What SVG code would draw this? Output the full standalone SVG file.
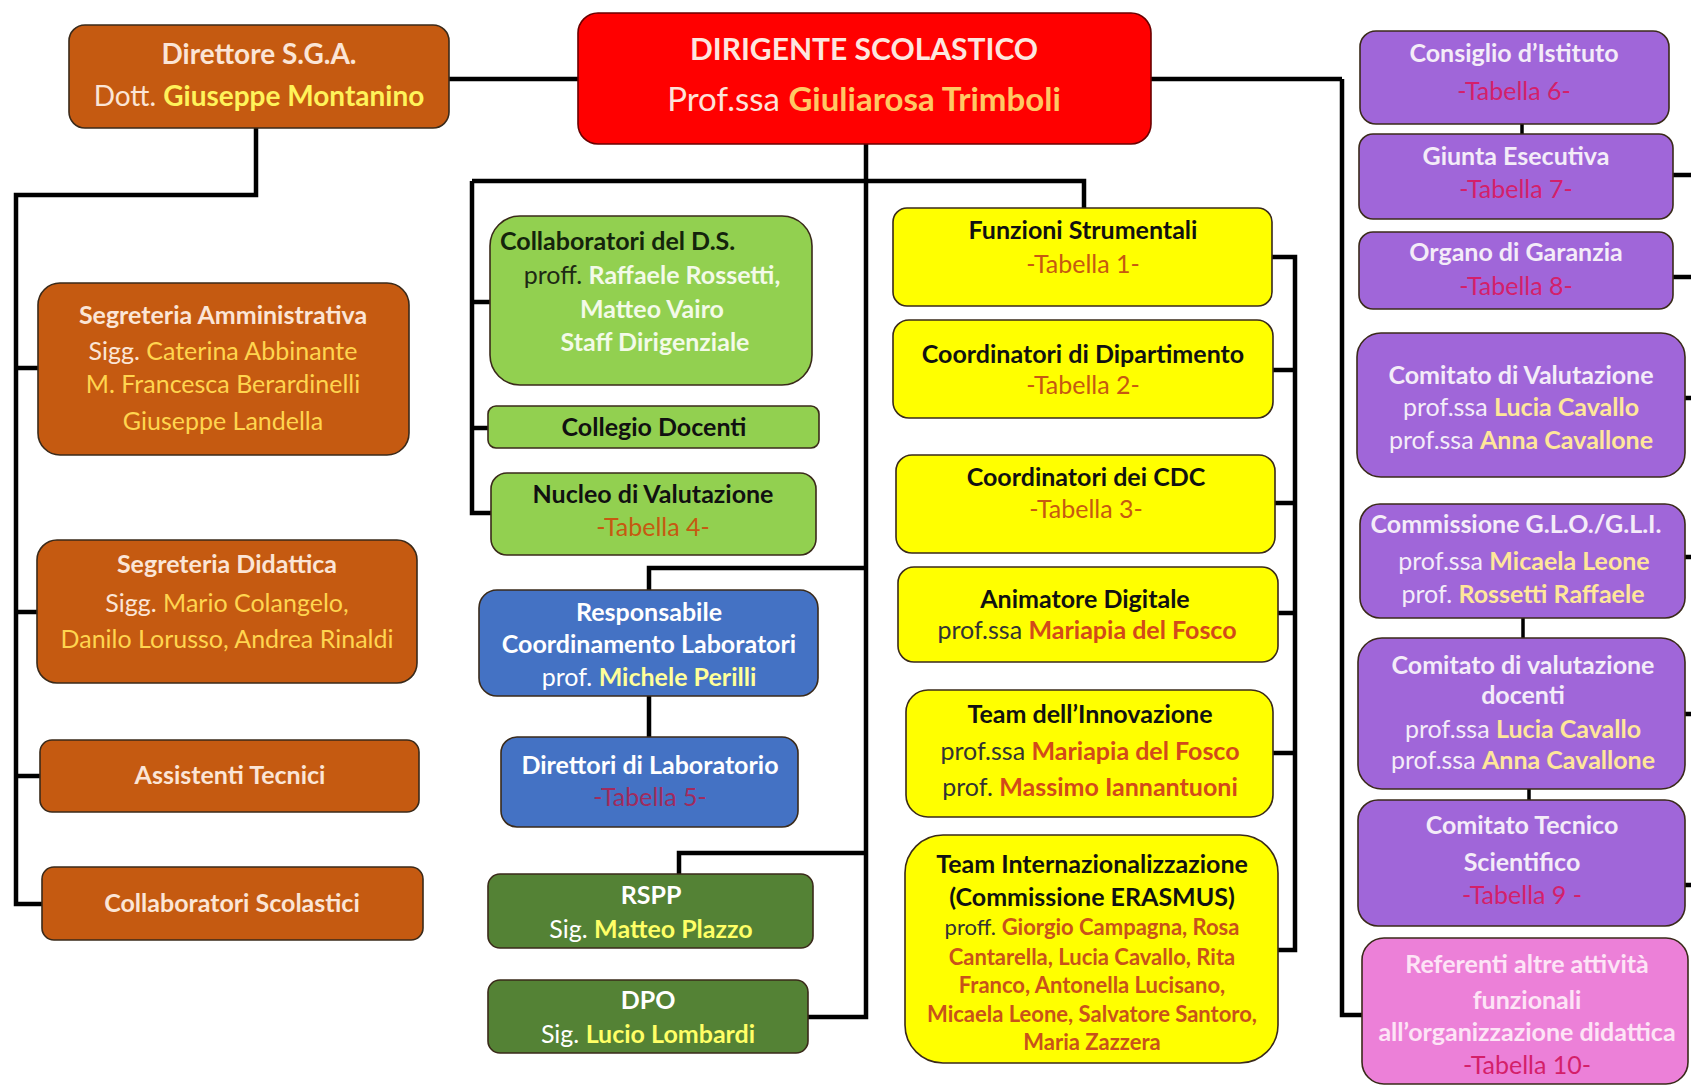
<svg xmlns="http://www.w3.org/2000/svg" width="1691" height="1086" viewBox="0 0 1691 1086">
<style>
text{font-family:Lato,'Noto Sans',sans-serif;font-size:25px;text-anchor:middle}
.b{font-weight:700}
.r{font-weight:400}
.sm{font-size:22px}
.box{stroke:#3a2a1a;stroke-width:1.6}
.br{fill:#c55a11}
.rd{fill:#ff0000;stroke:#6a0000}
.lg{fill:#92d050}
.bl{fill:#4472c4}
.dg{fill:#548235}
.ye{fill:#ffff00}
.pu{fill:#a066d9}
.pk{fill:#ec80d8}
.cr{fill:#fbe5d6}
.gd{fill:#ffd54f}
.wt{fill:#ffffff}
.lt{fill:#f4ecf8}
.bk{fill:#111111}
.tb{fill:#c65911}
.tm{fill:#d41f6a}
.nm{fill:#d24a1a}
.yl{fill:#ffff66}
.cv{fill:#ffe699}
.con{fill:none;stroke:#000;stroke-width:4.5;stroke-linejoin:miter}
</style>
<rect width="1691" height="1086" fill="#ffffff"/>
<g id="connectors" class="con">
<path d="M449,79 H578"/>
<path d="M1151,79 H1342"/>
<path d="M1342,79 V1015 H1363"/>
<path d="M256,128 V195 H16 V904 H42"/>
<path d="M16,368 H38 M16,612 H37 M16,776 H40"/>
<path d="M866,144 V1017 H808"/>
<path d="M472,181 H1084 V208"/>
<path d="M472,181 V513 H491 M472,302 H490 M472,428 H488"/>
<path d="M866,568 H649 V590 M649,696 V737"/>
<path d="M866,853 H679 V874"/>
<path d="M1272,257 H1295 V950 H1278 M1273,370 H1295 M1275,503 H1295 M1278,613 H1295 M1273,753 H1295"/>
<path d="M1673,175 H1691 M1673,277 H1691 M1685,398 H1691 M1685,557 H1691 M1685,714 H1691 M1685,885 H1691"/>
<path d="M1522,124 V134 M1523,618 V638 M1529,789 V800" stroke-width="3.5"/>
</g>
<g id="direttore">
<rect class="box br" x="69" y="25" width="380" height="103" rx="16"/>
<text x="259" y="64" class="b cr" style="font-size:28px">Direttore S.G.A.</text>
<text x="259" y="106" style="font-size:28px"><tspan class="r cr">Dott. </tspan><tspan class="b" fill="#fff35a">Giuseppe Montanino</tspan></text>
</g>
<g id="dirigente">
<rect class="box rd" x="578" y="13" width="573" height="131" rx="20"/>
<text x="864" y="60" class="b" fill="#fde6df" style="font-size:30px">DIRIGENTE SCOLASTICO</text>
<text x="864" y="111" style="font-size:33px"><tspan class="r" fill="#fde2d9">Prof.ssa </tspan><tspan class="b" fill="#ffc864">Giuliarosa Trimboli</tspan></text>
</g>
<g id="segreteria-amministrativa">
<rect class="box br" x="38" y="283" width="371" height="172" rx="22"/>
<text x="223" y="324" class="b cr">Segreteria Amministrativa</text>
<text x="223" y="360"><tspan class="cr">Sigg. </tspan><tspan class="gd">Caterina Abbinante</tspan></text>
<text x="223" y="393" class="gd">M. Francesca Berardinelli</text>
<text x="223" y="430" class="gd">Giuseppe Landella</text>
</g>
<g id="segreteria-didattica">
<rect class="box br" x="37" y="540" width="380" height="143" rx="20"/>
<text x="227" y="573" class="b cr">Segreteria Didattica</text>
<text x="227" y="612"><tspan class="cr">Sigg. </tspan><tspan class="gd">Mario Colangelo,</tspan></text>
<text x="227" y="648" class="gd">Danilo Lorusso, Andrea Rinaldi</text>
</g>
<g id="assistenti-tecnici">
<rect class="box br" x="40" y="740" width="379" height="72" rx="12"/>
<text x="230" y="784" class="b cr">Assistenti Tecnici</text>
</g>
<g id="collaboratori-scolastici">
<rect class="box br" x="42" y="867" width="381" height="73" rx="12"/>
<text x="232" y="912" class="b cr">Collaboratori Scolastici</text>
</g>
<g id="collaboratori-ds">
<rect class="box lg" x="490" y="216" width="322" height="169" rx="30"/>
<text x="500" y="250" class="b" fill="#14240c" style="text-anchor:start">Collaboratori del D.S.</text>
<text x="652" y="284"><tspan class="r" fill="#1e2a14">proff. </tspan><tspan class="b" fill="#f3fae8">Raffaele Rossetti,</tspan></text>
<text x="652" y="318" class="b" fill="#f3fae8">Matteo Vairo</text>
<text x="655" y="351" class="b" fill="#f3fae8">Staff Dirigenziale</text>
</g>
<g id="collegio-docenti">
<rect class="box lg" x="488" y="406" width="331" height="42" rx="8"/>
<text x="654" y="436" class="b bk">Collegio Docenti</text>
</g>
<g id="nucleo-valutazione">
<rect class="box lg" x="491" y="473" width="325" height="82" rx="16"/>
<text x="653" y="503" class="b bk">Nucleo di Valutazione</text>
<text x="653" y="536" class="tb">-Tabella 4-</text>
</g>
<g id="responsabile-laboratori">
<rect class="box bl" x="479" y="590" width="339" height="106" rx="18"/>
<text x="649" y="621" class="b wt">Responsabile</text>
<text x="649" y="653" class="b wt">Coordinamento Laboratori</text>
<text x="649" y="686"><tspan class="r wt">prof. </tspan><tspan class="b" fill="#ffff99">Michele Perilli</tspan></text>
</g>
<g id="direttori-laboratorio">
<rect class="box bl" x="501" y="737" width="297" height="90" rx="16"/>
<text x="650" y="774" class="b wt">Direttori di Laboratorio</text>
<text x="650" y="806" fill="#a02b5d">-Tabella 5-</text>
</g>
<g id="rspp">
<rect class="box dg" x="488" y="874" width="325" height="74" rx="12"/>
<text x="651" y="904" class="b wt">RSPP</text>
<text x="651" y="938"><tspan class="r wt">Sig. </tspan><tspan class="b yl">Matteo Plazzo</tspan></text>
</g>
<g id="dpo">
<rect class="box dg" x="488" y="980" width="320" height="73" rx="12"/>
<text x="648" y="1009" class="b wt">DPO</text>
<text x="648" y="1043"><tspan class="r wt">Sig. </tspan><tspan class="b yl">Lucio Lombardi</tspan></text>
</g>
<g id="funzioni-strumentali">
<rect class="box ye" x="893" y="208" width="379" height="98" rx="14"/>
<text x="1083" y="239" class="b bk">Funzioni Strumentali</text>
<text x="1083" y="273" class="tb">-Tabella 1-</text>
</g>
<g id="coordinatori-dipartimento">
<rect class="box ye" x="893" y="320" width="380" height="98" rx="16"/>
<text x="1083" y="363" class="b bk">Coordinatori di Dipartimento</text>
<text x="1083" y="394" class="tb">-Tabella 2-</text>
</g>
<g id="coordinatori-cdc">
<rect class="box ye" x="896" y="455" width="379" height="98" rx="16"/>
<text x="1086" y="486" class="b bk">Coordinatori dei CDC</text>
<text x="1086" y="518" class="tb">-Tabella 3-</text>
</g>
<g id="animatore-digitale">
<rect class="box ye" x="898" y="567" width="380" height="95" rx="16"/>
<text x="1085" y="608" class="b bk">Animatore Digitale</text>
<text x="1087" y="639"><tspan class="r" fill="#333">prof.ssa </tspan><tspan class="b nm">Mariapia del Fosco</tspan></text>
</g>
<g id="team-innovazione">
<rect class="box ye" x="906" y="690" width="367" height="127" rx="22"/>
<text x="1090" y="723" class="b bk">Team dell’Innovazione</text>
<text x="1090" y="760"><tspan class="r" fill="#333">prof.ssa </tspan><tspan class="b nm">Mariapia del Fosco</tspan></text>
<text x="1090" y="796"><tspan class="r" fill="#333">prof. </tspan><tspan class="b nm">Massimo Iannantuoni</tspan></text>
</g>
<g id="team-internazionalizzazione">
<rect class="box ye" x="905" y="835" width="373" height="228" rx="38"/>
<text x="1092" y="873" class="b bk">Team Internazionalizzazione</text>
<text x="1092" y="906" class="b bk">(Commissione ERASMUS)</text>
<text x="1092" y="935" class="sm"><tspan class="r" fill="#333">proff. </tspan><tspan class="b" fill="#c8521a">Giorgio Campagna, Rosa</tspan></text>
<text x="1092" y="965" class="sm b" fill="#c8521a">Cantarella, Lucia Cavallo, Rita</text>
<text x="1092" y="993" class="sm b" fill="#c8521a">Franco, Antonella Lucisano,</text>
<text x="1092" y="1022" class="sm b" fill="#c8521a">Micaela Leone, Salvatore Santoro,</text>
<text x="1092" y="1050" class="sm b" fill="#c8521a">Maria Zazzera</text>
</g>
<g id="consiglio-istituto">
<rect class="box pu" x="1360" y="31" width="309" height="93" rx="16"/>
<text x="1514" y="62" class="b lt">Consiglio d’Istituto</text>
<text x="1514" y="100" class="tm">-Tabella 6-</text>
</g>
<g id="giunta-esecutiva">
<rect class="box pu" x="1359" y="134" width="314" height="85" rx="14"/>
<text x="1516" y="165" class="b lt">Giunta Esecutiva</text>
<text x="1516" y="198" class="tm">-Tabella 7-</text>
</g>
<g id="organo-garanzia">
<rect class="box pu" x="1359" y="232" width="314" height="77" rx="14"/>
<text x="1516" y="261" class="b lt">Organo di Garanzia</text>
<text x="1516" y="295" class="tm">-Tabella 8-</text>
</g>
<g id="comitato-valutazione">
<rect class="box pu" x="1357" y="333" width="328" height="144" rx="24"/>
<text x="1521" y="384" class="b lt">Comitato di Valutazione</text>
<text x="1521" y="416"><tspan class="r lt">prof.ssa </tspan><tspan class="b cv">Lucia Cavallo</tspan></text>
<text x="1521" y="449"><tspan class="r lt">prof.ssa </tspan><tspan class="b cv">Anna Cavallone</tspan></text>
</g>
<g id="commissione-glo-gli">
<rect class="box pu" x="1360" y="504" width="325" height="114" rx="20"/>
<text x="1516" y="533" class="b lt">Commissione G.L.O./G.L.I.</text>
<text x="1524" y="570"><tspan class="r lt">prof.ssa </tspan><tspan class="b cv">Micaela Leone</tspan></text>
<text x="1523" y="603"><tspan class="r lt">prof. </tspan><tspan class="b cv">Rossetti Raffaele</tspan></text>
</g>
<g id="comitato-valutazione-docenti">
<rect class="box pu" x="1358" y="638" width="327" height="151" rx="24"/>
<text x="1523" y="674" class="b lt">Comitato di valutazione</text>
<text x="1523" y="704" class="b lt">docenti</text>
<text x="1523" y="738"><tspan class="r lt">prof.ssa </tspan><tspan class="b cv">Lucia Cavallo</tspan></text>
<text x="1523" y="769"><tspan class="r lt">prof.ssa </tspan><tspan class="b cv">Anna Cavallone</tspan></text>
</g>
<g id="comitato-tecnico-scientifico">
<rect class="box pu" x="1358" y="800" width="327" height="126" rx="20"/>
<text x="1522" y="834" class="b lt">Comitato Tecnico</text>
<text x="1522" y="871" class="b lt">Scientifico</text>
<text x="1522" y="904" class="tm">-Tabella 9 -</text>
</g>
<g id="referenti-attivita">
<rect class="box pk" x="1362" y="938" width="326" height="146" rx="22"/>
<text x="1527" y="973" class="b" fill="#fde4f6">Referenti altre attività</text>
<text x="1527" y="1009" class="b" fill="#fde4f6">funzionali</text>
<text x="1527" y="1041" class="b" fill="#fde4f6">all’organizzazione didattica</text>
<text x="1527" y="1074" class="tm">-Tabella 10-</text>
</g>
</svg>
